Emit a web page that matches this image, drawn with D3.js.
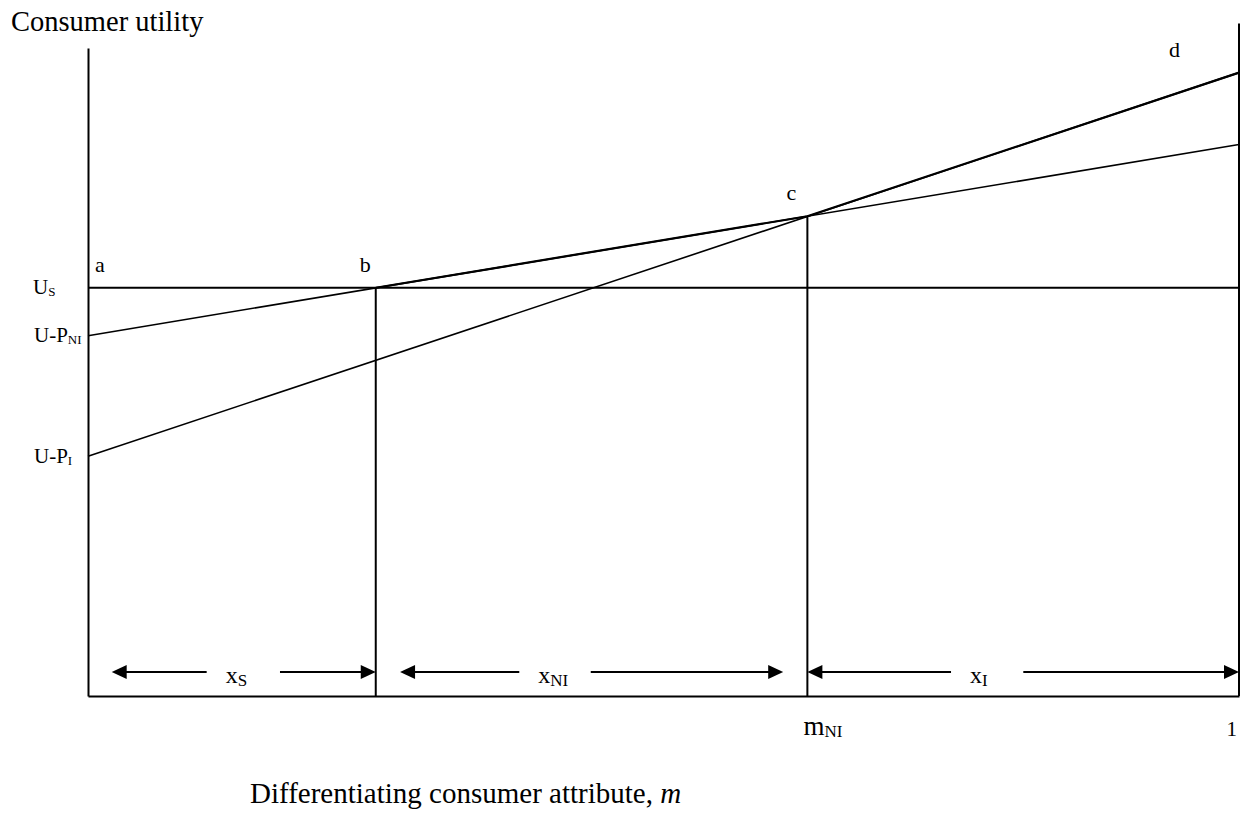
<!DOCTYPE html>
<html>
<head>
<meta charset="utf-8">
<script src="https://cdn.jsdelivr.net/npm/d3@7"></script>
<style>
  html, body { margin: 0; padding: 0; background: #fff; }
  svg { display: block; }
  text { font-family: "Liberation Serif", "Times New Roman", Times, serif; fill: #000; }
</style>
</head>
<body>
<svg id="chart" width="1251" height="816"></svg>
<script>
// ---------------- data ----------------
const mDomain = [0, 1];                 // differentiating attribute m
const utilityS = 6.3;                   // U_S (flat)
const utilityNI = [5.56, 8.51];         // U - P_NI + slope*m, at m = 0 and m = 1
const utilityI = [3.70, 9.62];          // U - P_I  + slope*m, at m = 0 and m = 1
const boundaryM = [0.25, 0.625];        // b and m_NI
const leftAxisTop = 10;
const rightAxisTop = 10.38;

const yTickValues = [utilityS, utilityNI[0], utilityI[0]];
const yTickMain = ["U", "U-P", "U-P"];
const yTickSub = ["S", "NI", "I"];

const pointLabels = ["a", "b", "c", "d"];

const segmentSub = ["S", "NI", "I"];
const segmentFrom = [0.0206, 0.2711, 0.625];
const segmentTo = [0.25, 0.604, 1];
const gapFrom = [0.1031, 0.3747, 0.7498];
const gapTo = [0.1668, 0.4368, 0.8126];

const xTickValues = [0.625, 1];
const xTickMain = ["m", "1"];
const xTickSub = ["NI", ""];

const yTitle = "Consumer utility";
const xTitle = "Differentiating consumer attribute, ";
const xTitleVar = "m";

// ---------------- drawing ----------------
const svg = d3.select("#chart");
const x = d3.scaleLinear().domain(mDomain).range([88, 1239]);
const y = d3.scaleLinear().domain([0, leftAxisTop]).range([696, 48]);

const lineGen = d3.line().x(d => x(d.m)).y(d => y(d.u));
const ni = m => utilityNI[0] + (utilityNI[1] - utilityNI[0]) * m;
const ip = m => utilityI[0] + (utilityI[1] - utilityI[0]) * m;
const envelope = m => Math.max(utilityS, ni(m), ip(m));

// left axis (domain line + custom tick labels)
const leftAxis = d3.axisLeft(y).tickValues(yTickValues).tickSize(0).tickSizeOuter(0).tickFormat(() => "");
const gL = svg.append("g").attr("transform", `translate(${x(0)},0)`).call(leftAxis);
gL.select(".domain").attr("stroke", "#000").attr("stroke-width", 2);
gL.selectAll(".tick text").remove();
yTickValues.forEach((v, i) => {
  const t = svg.append("text")
    .attr("x", x(0) - 54 - (i === 0 ? 1 : 0))
    .attr("y", y(v) + 6.5)
    .attr("font-size", 21);
  t.append("tspan").text(yTickMain[i]);
  t.append("tspan").attr("font-size", 13).attr("dy", 2).text(yTickSub[i]);
});

// right axis
svg.append("line")
  .attr("x1", x(1)).attr("x2", x(1))
  .attr("y1", y(0)).attr("y2", y(rightAxisTop))
  .attr("stroke", "#000").attr("stroke-width", 2);

// bottom axis
const bottomAxis = d3.axisBottom(x).tickValues([]).tickSizeOuter(0);
const gB = svg.append("g").attr("transform", `translate(0,${y(0)})`).call(bottomAxis);
gB.select(".domain").attr("stroke", "#000").attr("stroke-width", 2);

// U_S horizontal line
svg.append("path")
  .attr("d", lineGen(mDomain.map(m => ({ m, u: utilityS }))))
  .attr("stroke", "#000").attr("stroke-width", 2).attr("fill", "none");

// NI and I lines
svg.append("path")
  .attr("d", lineGen(mDomain.map((m, i) => ({ m, u: utilityNI[i] }))))
  .attr("stroke", "#000").attr("stroke-width", 1.6).attr("fill", "none");
svg.append("path")
  .attr("d", lineGen(mDomain.map((m, i) => ({ m, u: utilityI[i] }))))
  .attr("stroke", "#000").attr("stroke-width", 1.6).attr("fill", "none");

// envelope emphasis b -> c -> d
const envPts = [boundaryM[0], boundaryM[1], 1].map(m => ({ m, u: envelope(m) }));
svg.append("path")
  .attr("d", lineGen(envPts))
  .attr("stroke", "#000").attr("stroke-width", 2.2).attr("fill", "none");

// vertical boundary lines
boundaryM.forEach(m => {
  svg.append("line")
    .attr("x1", x(m)).attr("x2", x(m))
    .attr("y1", y(0)).attr("y2", y(envelope(m)))
    .attr("stroke", "#000").attr("stroke-width", 2);
});

// point labels a, b, c, d
const labelPts = [0, boundaryM[0], boundaryM[1], 1];
const labelDx = [7, -16, -21, -70];
labelPts.forEach((m, i) => {
  svg.append("text")
    .attr("x", x(m) + labelDx[i])
    .attr("y", y(envelope(m)) - 16)
    .attr("font-size", 22)
    .text(pointLabels[i]);
});

// segment arrows
const arrowY = y(0) - 24;
const headL = 15, headW = 7;
segmentSub.forEach((s, i) => {
  const a0 = x(segmentFrom[i]), a1 = x(segmentTo[i]);
  const g0 = x(gapFrom[i]), g1 = x(gapTo[i]);
  svg.append("line").attr("x1", a0 + headL - 1).attr("x2", g0).attr("y1", arrowY).attr("y2", arrowY)
    .attr("stroke", "#000").attr("stroke-width", 2);
  svg.append("line").attr("x1", g1).attr("x2", a1 - headL + 1).attr("y1", arrowY).attr("y2", arrowY)
    .attr("stroke", "#000").attr("stroke-width", 2);
  svg.append("path")
    .attr("d", `M${a0},${arrowY}L${a0 + headL},${arrowY - headW}L${a0 + headL},${arrowY + headW}Z`)
    .attr("fill", "#000");
  svg.append("path")
    .attr("d", `M${a1},${arrowY}L${a1 - headL},${arrowY - headW}L${a1 - headL},${arrowY + headW}Z`)
    .attr("fill", "#000");
  const t = svg.append("text").attr("x", g0 + 19).attr("y", arrowY + 11).attr("font-size", 24);
  t.append("tspan").text("x");
  t.append("tspan").attr("font-size", 17).attr("dy", 3).text(s);
});

// bottom tick labels
xTickValues.forEach((v, i) => {
  if (xTickSub[i]) {
    const t = svg.append("text").attr("x", x(v) - 4).attr("y", y(0) + 39).attr("font-size", 27);
    t.append("tspan").text(xTickMain[i]);
    t.append("tspan").attr("font-size", 17).attr("dy", 2).text(xTickSub[i]);
  } else {
    svg.append("text").attr("x", x(v) - 2).attr("y", y(0) + 40)
      .attr("text-anchor", "end").attr("font-size", 21).text(xTickMain[i]);
  }
});

// titles
svg.append("text").attr("x", 11).attr("y", 31).attr("font-size", 28.5).text(yTitle);
const xt = svg.append("text").attr("x", 250).attr("y", 803).attr("font-size", 29);
xt.append("tspan").text(xTitle);
xt.append("tspan").attr("font-style", "italic").text(xTitleVar);
</script>
</body>
</html>
